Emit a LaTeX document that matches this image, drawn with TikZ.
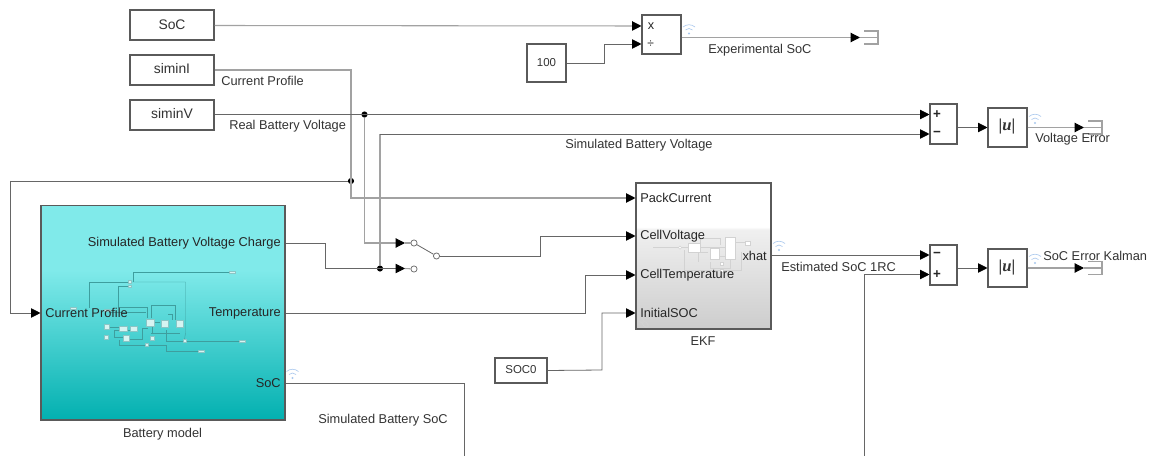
\documentclass[tikz,border=0pt]{standalone}
\usepackage{fontspec}
\setmainfont{Liberation Sans}
\newfontfamily\absfont{Liberation Serif}
\usetikzlibrary{arrows.meta,shadows}
\definecolor{wire}{HTML}{A2A2A2}
\definecolor{darkwire}{HTML}{666666}
\definecolor{edge}{HTML}{5A5A5A}
\definecolor{ink}{HTML}{333333}
\definecolor{wifi}{HTML}{A9C8EE}
\definecolor{batT}{HTML}{80EAEA}
\definecolor{batB}{HTML}{02B0B0}
\definecolor{ekfB}{HTML}{CDCDCD}
\definecolor{thumb}{HTML}{3E9E9E}
\definecolor{thumbbox}{HTML}{D6F4F2}
\definecolor{ekfthumb}{HTML}{D2D2D2}
\pgfdeclareverticalshading{batshade}{100bp}{color(0bp)=(batB);color(25bp)=(batB);color(60bp)=(batT);color(100bp)=(batT)}
\pgfdeclareverticalshading{ekfshade}{100bp}{color(0bp)=(ekfB);color(25bp)=(ekfB);color(59bp)=(white!94!black);color(60bp)=(white);color(100bp)=(white)}
\tikzset{
  blockbox/.style={draw=edge,line width=.8pt,fill=white,inner sep=0pt,text=ink,font=\fontsize{10}{12}\selectfont,
    drop shadow={shadow xshift=.6pt,shadow yshift=-.6pt,fill=black!45,opacity=.6}},
  wirel/.style={draw=wire,line width=.8pt},
  wired/.style={draw=darkwire,line width=.6pt},
  tip/.style={-{Triangle[length=7pt,width=7pt,color=black]}},
  lab/.style={text=ink,inner sep=0pt,font=\fontsize{9.6}{11}\selectfont},
  port/.style={text=black!85,inner sep=0pt,font=\fontsize{9.6}{11}\selectfont},
  dotj/.style={circle,fill=black,inner sep=0pt,minimum size=4.6pt},
  swdot/.style={circle,draw=darkwire,fill=white,line width=.55pt,inner sep=0pt,minimum size=4.6pt},
  thumbw/.style={draw=thumb,line width=.3pt},
  thumbb/.style={fill=thumbbox,draw=thumb!60,line width=.15pt},
  ekfw/.style={draw=ekfthumb,line width=.4pt},
  ekfb/.style={fill=white,draw=ekfthumb,line width=.4pt}
}
\newcommand{\blk}[6][]{\node[blockbox,#1,minimum width={(#5-#3)*0.75pt},minimum height={(#6-#4)*0.75pt}] (#2) at ({(#3+#5)/2},{(#4+#6)/2}) {};}
\newcommand{\wifimark}[2]{%
  \fill[wifi] (#1,#2) circle (.9pt);
  \draw[wifi,line width=.45pt] ({#1-3.5},{#2-3.5}) .. controls ({#1-1.5},{#2-5.5}) and ({#1+1.5},{#2-5.5}) .. ({#1+3.5},{#2-3.5});
  \draw[wifi,line width=.45pt] ({#1-6},{#2-6.5}) .. controls ({#1-2.5},{#2-9.5}) and ({#1+2.5},{#2-9.5}) .. ({#1+6},{#2-6.5});}
\newcommand{\termi}[3]{%
  \draw[wire,line width=.8pt] (#1,{#3-6.5}) -- ({#2},{#3-6.5}) -- ({#2},{#3+6.5}) -- (#1,{#3+6.5});}
\newcommand{\tb}[4]{\path[thumbb] ({#1-#3/2},{#2-#4/2}) rectangle ({#1+#3/2},{#2+#4/2});}
\begin{document}
\begin{tikzpicture}[x=0.75pt,y=-0.75pt]
\useasboundingbox[fill=white] (0,0) rectangle (1164,456);
% blocks
\blk{soc}{130}{10}{214}{40}
\blk{simI}{130}{55}{214}{85}
\blk{simV}{130}{100}{214}{130}
\blk{prod}{642}{15}{681}{54}
\blk{hund}{527}{44}{566}{82}
\blk{sumA}{930}{104}{957}{144}
\blk{sumB}{930}{245}{957}{285}
\blk{absA}{988}{108}{1027}{147}
\blk{absB}{988}{249}{1027}{287}
\blk{soczero}{495}{358}{547}{383}
\blk[draw=edge,shading=batshade]{bat}{41}{205.5}{285}{420}
\blk[draw=edge,shading=ekfshade]{ekf}{636}{183}{771}{329}
% block texts
\node[lab,font=\fontsize{10.4}{12}\selectfont] (tSoc) at (172,25) {SoC};
\node[lab,font=\fontsize{10.4}{12}\selectfont] (tI) at (172,69) {siminI};
\node[lab,font=\fontsize{10.4}{12}\selectfont] (tV) at (172,114) {siminV};
\node[lab,font=\fontsize{8.6}{10}\selectfont] (t100) at (546.5,63) {100};
\node[lab,font=\fontsize{8.6}{10}\selectfont] (tS0) at (521,370) {SOC0};
\node[port,anchor=west,font=\fontsize{9.5}{10}\selectfont] (tx) at (647.5,26) {x};
\node[port,anchor=west,font=\fontsize{9}{10}\selectfont] (tdiv) at (647,44) {÷};
\node[port,font=\bfseries\fontsize{10}{10}\selectfont] (pA) at (937,114.5) {+};
\node[port,font=\bfseries\fontsize{10}{10}\selectfont] (mA) at (937,134) {−};
\node[port,font=\bfseries\fontsize{10}{10}\selectfont] (mB) at (937,255) {−};
\node[port,font=\bfseries\fontsize{10}{10}\selectfont] (pB) at (937,274.5) {+};
\node[text=ink,inner sep=0pt,font=\absfont\bfseries\fontsize{12.5}{14}\selectfont] (uA) at (1007,127) {|\textit{u}|};
\node[text=ink,inner sep=0pt,font=\absfont\bfseries\fontsize{12.5}{14}\selectfont] (uB) at (1007,268) {|\textit{u}|};
% battery thumbnail
\draw[thumbw] (231,272) -- (133.5,272) -- (133.5,281.7);
\draw[thumbw] (129,281.7) -- (88.7,281.7) -- (88.7,308);
\draw[thumbw] (129,286) -- (118.5,286) -- (118.5,307.5) -- (147.5,307.5) -- (147.5,318);
\draw[thumbw] (131,282) -- (185.5,282) -- (185.5,333) -- (184.3,340.7);
\draw[thumbw] (151,318) -- (151,305.5) -- (175.5,305.5) -- (175.5,320);
\draw[thumbw] (109,312) -- (146,312);
\draw[thumbw] (153,322) -- (160,322);
\draw[thumbw] (168,314) -- (172,314) -- (172,320);
\draw[thumbw] (166,341) -- (241,341);
\draw[thumbw] (166,330) -- (166,341);
\draw[thumbw] (151,333) -- (180,333);
\draw[thumbw] (119,345) -- (166,345) -- (166,351) -- (201,351);
\draw[thumbw] (119,345) -- (119,340);
\draw[thumbw] (114,337) -- (123,337);
\draw[thumbw] (114,337) -- (114,330) -- (119,330);
\draw[thumbw] (130,339) -- (142,339) -- (142,328) -- (148,328);
\draw[thumbw] (128,330) -- (131,330);
\draw[thumbw] (108,327) -- (119,327);
\draw[thumbw] (152,334) -- (152,327);
\tb{149.7}{322.3}{8}{7}\tb{164.3}{324}{7}{7}\tb{179.3}{324}{7}{7}
\tb{106.3}{327}{5}{5}\tb{123}{328.3}{8}{5}\tb{134}{329}{7}{5}
\tb{126}{338.3}{6}{6}\tb{106.3}{336.7}{4}{4}\tb{151.7}{338}{4}{4}
\tb{147}{344.7}{3}{3}\tb{184.3}{340.7}{3}{3}
\tb{129.7}{281.7}{3}{2.5}\tb{129.7}{286}{3}{2.5}
\tb{231.7}{272}{6}{2}\tb{241.7}{341}{6}{2}\tb{201.3}{350.7}{6}{2}
\tb{73}{308.3}{6}{2}\tb{106.7}{310}{6}{2}
% EKF thumbnail
\draw[ekfw] (653,247.7) -- (688,247.7);
\draw[ekfw] (700,247.7) -- (725,247.7);
\draw[ekfw] (735,242.7) -- (748,242.7);
\draw[ekfw] (700,243) -- (700,238) -- (720,238) -- (720,245);
\draw[ekfw] (684,250) -- (684,270.5) -- (741,270.5) -- (741,252);
\draw[ekfw] (708,252) -- (698,252) -- (698,262);
\draw[ekfw] (710,262) -- (710,268) -- (730,268) -- (730,258);
\draw[ekfw] (719,256) -- (725,256);
\path[ekfb] (688,243) rectangle (700,252);
\path[ekfb] (710,248) rectangle (719,259);
\path[ekfb] (725,237) rectangle (735,259);
\path[ekfb] (745,241) rectangle (750,245);
\path[ekfb] (720,262) rectangle (723.5,265);
\path[ekfb] (720,269) rectangle (723.5,272);
\draw[ekfb] (680,247.7) circle (1.2pt);
\draw[ekfthumb,line width=.7pt,rotate around={-45:(643,322)}] (640,322) ellipse (3pt and 1.6pt) (646,322) ellipse (3pt and 1.6pt);
% port labels
\node[port,anchor=east] (oV) at (281,243) {Simulated Battery Voltage Charge};
\node[port,anchor=west] (iC) at (45,313) {Current Profile};
\node[port,anchor=east] (oT) at (281,313) {Temperature};
\node[port,anchor=east] (oS) at (281,383) {SoC};
\node[port,anchor=west] (iP) at (640,198) {PackCurrent};
\node[port,anchor=west] (iV) at (640,236) {CellVoltage};
\node[port,anchor=west] (iT) at (640,275) {CellTemperature};
\node[port,anchor=west] (iS) at (640,313) {InitialSOC};
\node[port,anchor=east] (oX) at (767,256) {xhat};
% coordinates: block ports and wire corners
\coordinate (prodA) at (prod.west |- 0,26);
\coordinate (prodB) at (prod.west |- 0,44);
\coordinate (prodO) at (prod.east |- 0,37.5);
\coordinate (tipP) at (860,37.5);
\coordinate (endP) at (878,37.5);
\coordinate (sumAa) at (sumA.west |- 0,114.5);
\coordinate (sumAb) at (sumA.west |- 0,134);
\coordinate (sumAo) at (sumA.east |- 0,127.5);
\coordinate (absAi) at (absA.west |- 0,127.5);
\coordinate (absAo) at (absA.east |- 0,127.5);
\coordinate (tipA) at (1084,127.5);
\coordinate (endA) at (1102,127.5);
\coordinate (sumBa) at (sumB.west |- 0,255);
\coordinate (sumBb) at (sumB.west |- 0,274.5);
\coordinate (sumBo) at (sumB.east |- 0,268);
\coordinate (absBi) at (absB.west |- 0,268);
\coordinate (absBo) at (absB.east |- 0,268);
\coordinate (tipB) at (1084,268);
\coordinate (endB) at (1102,268);
\coordinate (ekfP) at (ekf.west |- 0,198);
\coordinate (ekfV) at (ekf.west |- 0,236);
\coordinate (ekfT) at (ekf.west |- 0,275);
\coordinate (ekfS) at (ekf.west |- 0,313);
\coordinate (ekfO) at (ekf.east |- 0,255);
\coordinate (batI) at (bat.west |- 0,313);
\coordinate (batV) at (bat.east |- 0,243);
\coordinate (batT) at (bat.east |- 0,313);
\coordinate (batS) at (bat.east |- 0,383);
\coordinate (freeI) at (10,181);
\coordinate (freeS) at (464,456);
\coordinate (freeE) at (864,456);
\node[dotj] (jI) at (351,181) {};
\node[dotj] (jV) at (364.5,114.5) {};
\node[dotj] (jS) at (380,268.5) {};
\node[swdot] (swA) at (414,243) {};
\node[swdot] (swB) at (414,269) {};
\node[swdot] (swC) at (436.5,256) {};
\coordinate (tipU) at (405,243);
\coordinate (tipL) at (405,268.5);
% connectors
\draw[wirel,tip] (soc.east |- 0,25.5) -- (prodA);
\draw[wired,tip] (hund.east) -- (604,63) -- (604,44) -- (prodB);
\draw[wirel,tip] (prodO) -- (tipP);
\draw[wirel] (tipP) -- (endP);
\draw[wirel,tip] (simI.east) -- (351,70) -- (351,198) -- (ekfP);
\draw[wired] (freeI) -- (jI);
\draw[wired,tip] (freeI) -- (10,313) -- (batI);
\draw[wired,tip] (simV.east |- 0,114.5) -- (sumAa);
\draw[wirel,tip] (jV) -- (364.5,243) -- (tipU);
\draw[wirel] (tipU) -- (swA);
\draw[wirel] (380,134) -- (jS);
\draw[wired,tip] (380,134) -- (sumAb);
\draw[wired,tip] (batV) -- (325,243) -- (325,268.5) -- (tipL);
\draw[wirel] (tipL) -- (swB);
\draw[darkwire,line width=.6pt] (swA) -- (swC);
\draw[wired,tip] (swC) -- (540,256) -- (540,236) -- (ekfV);
\draw[wired,tip] (batT) -- (585,313) -- (585,275) -- (ekfT);
\draw[wired,tip] (soczero.east) -- (602,370) -- (602,313) -- (ekfS);
\draw[darkwire,line width=.7pt] (batS) -- (464,383) -- (freeS);
\draw[wired,tip] (ekfO) -- (sumBa);
\draw[wired,tip] (freeE) -- (864,274.5) -- (sumBb);
\draw[wired,tip] (sumAo) -- (absAi);
\draw[wirel,tip] (absAo) -- (tipA);
\draw[wirel] (tipA) -- (endA);
\draw[wired,tip] (sumBo) -- (absBi);
\draw[wirel,tip] (absBo) -- (tipB);
\draw[wirel] (tipB) -- (endB);
% terminators
\termi{864}{878}{37.5}
\termi{1088}{1102}{127.5}
\termi{1088}{1102}{268}
% signal marks
\wifimark{292.5}{378}
\wifimark{689}{33.5}
\wifimark{1035}{123}
\wifimark{1035}{263}
\wifimark{779}{250}
% wire labels
\node[lab,anchor=west] (lCP) at (221,81) {Current Profile};
\node[lab,anchor=west] (lRV) at (229,126) {Real Battery Voltage};
\node[lab,anchor=west] (lSV) at (565,145) {Simulated Battery Voltage};
\node[lab,anchor=west] (lES) at (708,50) {Experimental SoC};
\node[lab,anchor=west] (lVE) at (1035,139) {Voltage Error};
\node[lab,anchor=west] (lSE) at (1043,256) {SoC Error Kalman};
\node[lab,anchor=west] (lEK) at (781,267) {Estimated SoC 1RC};
\node[lab,anchor=west] (lSS) at (318,420) {Simulated Battery SoC};
\node[lab] (nBat) at (162.5,434) {Battery model};
\node[lab] (nEKF) at (703,341) {EKF};
\end{tikzpicture}
\end{document}
